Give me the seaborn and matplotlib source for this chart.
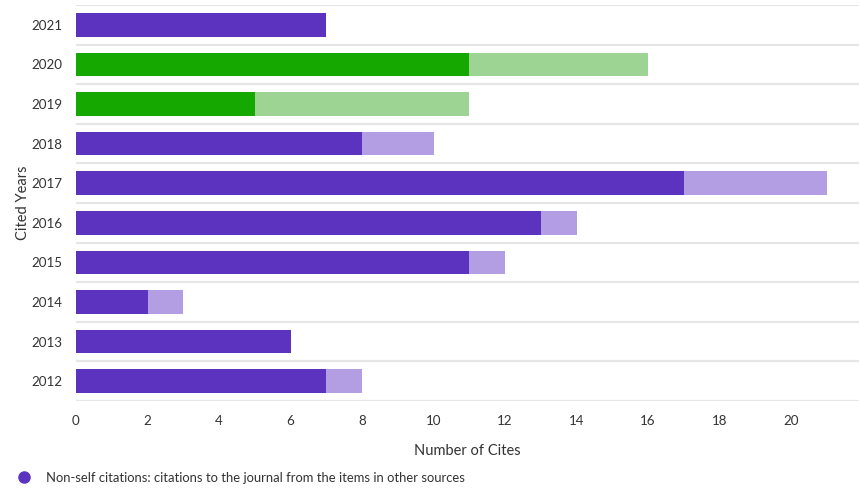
import numpy as np
import pandas as pd
import seaborn as sns
import matplotlib.pyplot as plt
from matplotlib.lines import Line2D

# datos
years = ["2021", "2020", "2019", "2018", "2017", "2016", "2015", "2014", "2013", "2012"]
non_self = [7, 11, 5, 8, 17, 13, 11, 2, 6, 7]
total_cites = [7, 16, 11, 10, 21, 14, 12, 3, 6, 8]
highlight = ["2020", "2019"]

PURPLE = "#5c33be"
PURPLE_LIGHT = "#b39de3"
GREEN = "#14a800"
GREEN_LIGHT = "#9dd494"

df = pd.DataFrame({"year": years, "non_self": non_self, "total": total_cites})

dark_pal = {y: (GREEN if y in highlight else PURPLE) for y in years}
light_pal = {y: (GREEN_LIGHT if y in highlight else PURPLE_LIGHT) for y in years}

sns.set_style("white")
plt.rcParams['font.family'] = ['Lato', 'DejaVu Sans']

fig = plt.figure(figsize=(8.59, 4.90), dpi=100)
ax = fig.add_axes([76 / 859, 1 - 401 / 490, 1 - 76 / 859, (401 - 5) / 490])

# total primero (claro) y encima las no-autocitas (oscuro)
sns.barplot(data=df, x="total", y="year", hue="year", palette=light_pal,
            order=years, orient="h", width=0.6, legend=False, ax=ax,
            saturation=1, linewidth=0)
sns.barplot(data=df, x="non_self", y="year", hue="year", palette=dark_pal,
            order=years, orient="h", width=0.6, legend=False, ax=ax,
            saturation=1, linewidth=0)

ax.set_xlim(0, 21.9)
ax.set_ylim(len(years) - 0.5, -0.5)
ax.set_xticks(range(0, 22, 2))

# lineas de separacion entre categorias
for b in np.arange(-0.5, len(years), 1.0):
    ax.axhline(b, color="#e6e6e6", lw=1.6, zorder=0)

for s in ax.spines.values():
    s.set_visible(False)
ax.tick_params(axis="both", length=0, labelsize=9.6, colors="#333333")
ax.tick_params(axis="x", pad=10)
ax.tick_params(axis="y", pad=10)

ax.set_xlabel("Number of Cites", fontsize=10.5, color="#333333", labelpad=12)
ax.set_ylabel("Cited Years", fontsize=10.5, color="#333333", labelpad=1)

handle = Line2D([], [], marker="o", color="none", markerfacecolor=PURPLE,
                markeredgecolor=PURPLE, markersize=8)
fig.legend([handle], ["Non-self citations: citations to the journal from the items in other sources"],
           loc="center left", bbox_to_anchor=(16 / 859, 1 - 478 / 490), frameon=False,
           fontsize=9.4, handlelength=1.2, handletextpad=1.1, borderaxespad=0,
           borderpad=0, labelcolor="#333333")

fig.savefig("out.png", dpi=100)
plt.close(fig)
